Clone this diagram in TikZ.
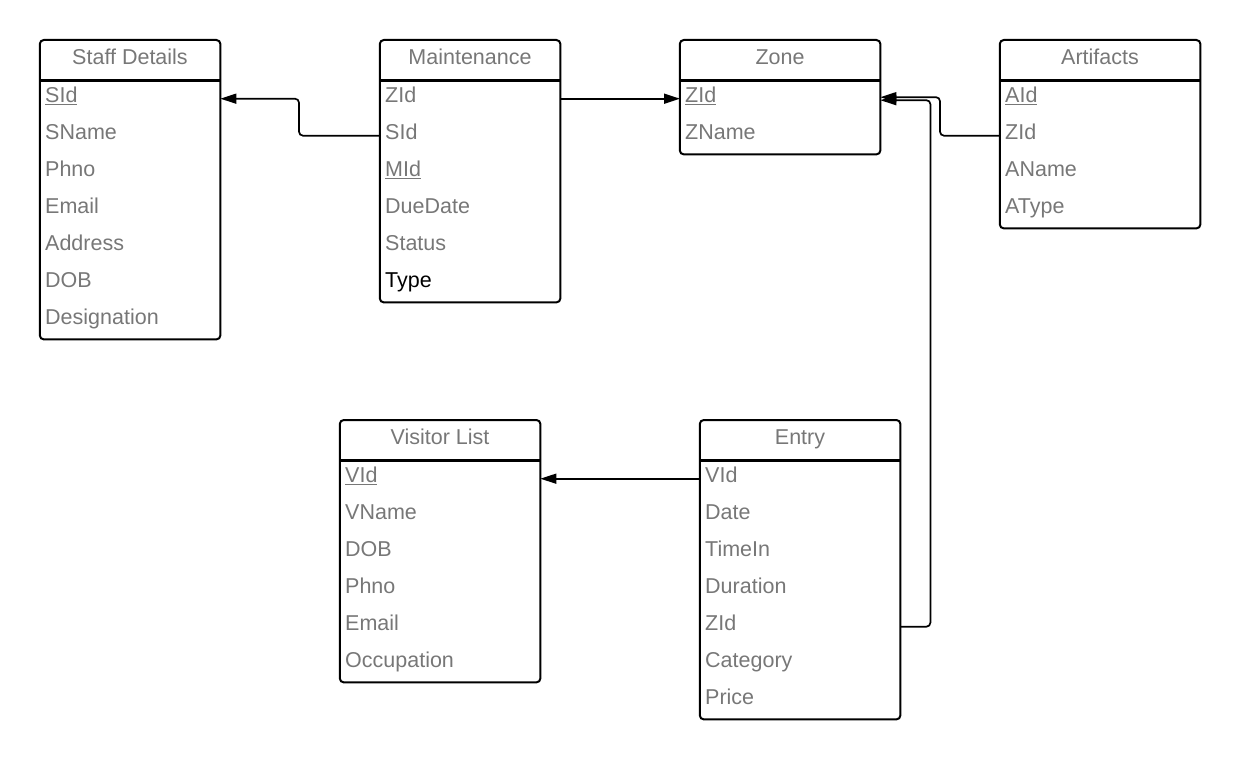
\documentclass[tikz,border=0pt]{standalone}
\usepackage{fontspec}
\setmainfont{Liberation Sans}
\usetikzlibrary{arrows.meta}
\definecolor{fieldgray}{RGB}{119,119,119}

\begin{document}
\begin{tikzpicture}[
    x=1pt, y=-1pt,
    font=\fontsize{21.5}{25}\selectfont,
    title/.style={anchor=north, minimum width=#1, minimum height=40pt, inner sep=0pt, text height=15pt, text depth=6pt, text=fieldgray},
    field/.style={anchor=north west, text width=#1, minimum height=37pt, inner xsep=5pt, inner ysep=0pt, text height=14pt, text depth=7pt, align=left, text=fieldgray},
    frame/.style={draw, line width=2pt, rounded corners=4pt},
    split/.style={draw, line width=3pt},
    fk/.style={draw, line width=1.7pt, rounded corners=4pt, -{Triangle[length=16pt, width=10pt]}}
  ]
    \useasboundingbox (0,0) rectangle (1240,759);

    % Staff Details
    \node[title=180pt] (staff) at (130,40) {Staff Details};
    \foreach \i/\f in {1/\underline{SId}, 2/SName, 3/Phno, 4/Email, 5/Address, 6/DOB, 7/Designation}
      \node[field=170pt] (staff\i) at (40,{80+37*(\i-1)}) {\f};
    \draw[frame] (staff.north west) rectangle (staff7.south east);
    \draw[split] (staff.south west) -- (staff.south east);

    % Maintenance
    \node[title=180pt] (maint) at (470,40) {Maintenance};
    \foreach \i/\f in {1/ZId, 2/SId, 3/\underline{MId}, 4/DueDate, 5/Status, 6/\textcolor{black}{Type}}
      \node[field=170pt] (maint\i) at (380,{80+37*(\i-1)}) {\f};
    \draw[frame] (maint.north west) rectangle (maint6.south east);
    \draw[split] (maint.south west) -- (maint.south east);

    % Zone
    \node[title=200pt] (zone) at (780,40) {Zone};
    \foreach \i/\f in {1/\underline{ZId}, 2/ZName}
      \node[field=190pt] (zone\i) at (680,{80+37*(\i-1)}) {\f};
    \draw[frame] (zone.north west) rectangle (zone2.south east);
    \draw[split] (zone.south west) -- (zone.south east);

    % Artifacts
    \node[title=200pt] (art) at (1100,40) {Artifacts};
    \foreach \i/\f in {1/\underline{AId}, 2/ZId, 3/AName, 4/AType}
      \node[field=190pt] (art\i) at (1000,{80+37*(\i-1)}) {\f};
    \draw[frame] (art.north west) rectangle (art4.south east);
    \draw[split] (art.south west) -- (art.south east);

    % Visitor List
    \node[title=200pt] (visitor) at (440,420) {Visitor List};
    \foreach \i/\f in {1/\underline{VId}, 2/VName, 3/DOB, 4/Phno, 5/Email, 6/Occupation}
      \node[field=190pt] (visitor\i) at (340,{460+37*(\i-1)}) {\f};
    \draw[frame] (visitor.north west) rectangle (visitor6.south east);
    \draw[split] (visitor.south west) -- (visitor.south east);

    % Entry
    \node[title=200pt] (entry) at (800,420) {Entry};
    \foreach \i/\f in {1/VId, 2/Date, 3/TimeIn, 4/Duration, 5/ZId, 6/Category, 7/Price}
      \node[field=190pt] (entry\i) at (700,{460+37*(\i-1)}) {\f};
    \draw[frame] (entry.north west) rectangle (entry7.south east);
    \draw[split] (entry.south west) -- (entry.south east);

    % Foreign keys
    \draw[fk] (maint2.west) -- ++(-81,0) |- (staff1.east);
    \draw[fk] (maint1.east) -- (zone1.west);
    \draw[fk] (art2.west) -- ++(-60,0) |- ([yshift=1.5pt]zone1.east);
    \draw[fk] (entry5.east) -- ++(30,0) |- ([yshift=-1.5pt]zone1.east);
    \draw[fk] (entry1.west) -- (visitor1.east);

  \end{tikzpicture}
\end{document}
